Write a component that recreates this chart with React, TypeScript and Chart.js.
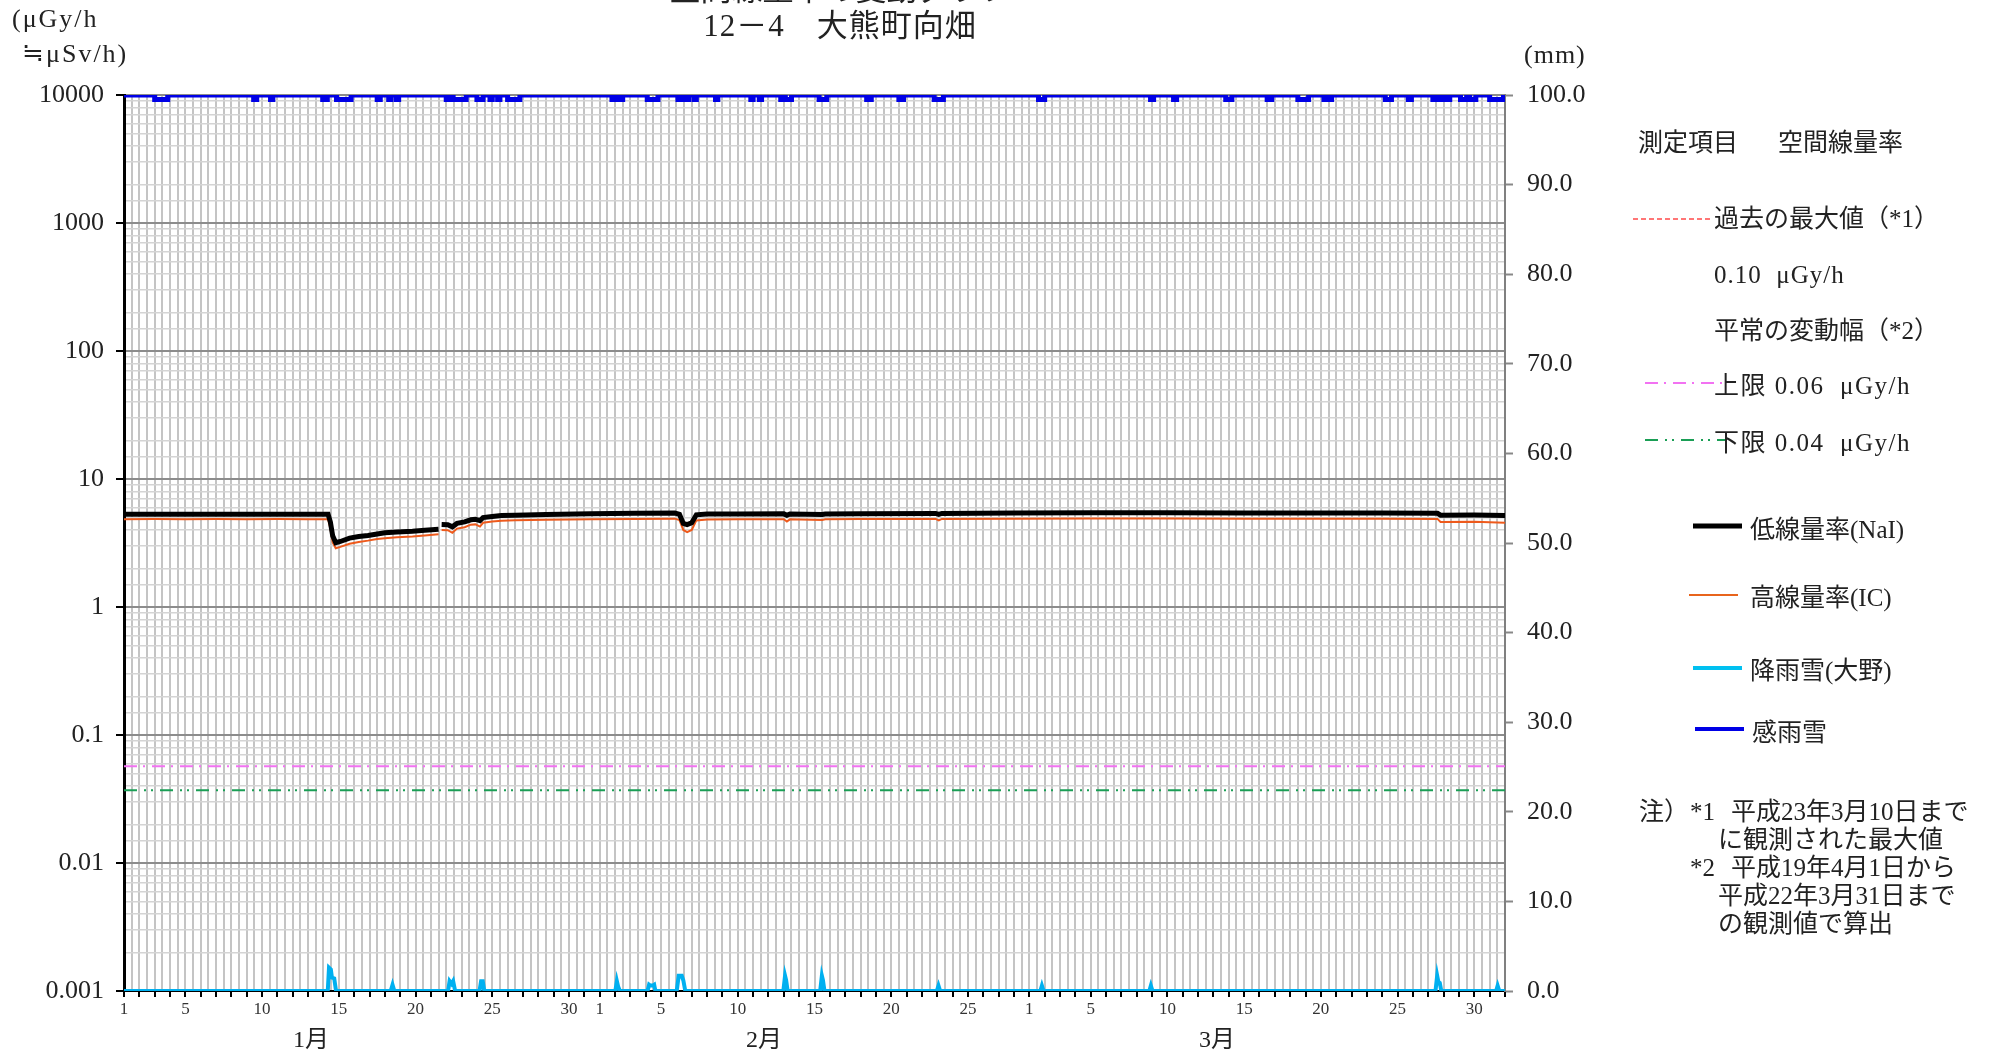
import React, { useEffect, useRef } from "react";
import { Chart, registerables } from "chart.js";

Chart.register(...registerables);

// ---------- data ----------
// x = days elapsed since 1 Jan 00:00 (0..90 covers Jan, Feb, Mar)
const monthNames = ["1月", "2月", "3月"];
const monthLengths = [31, 28, 31];
const dayLabelNumbers = [1, 5, 10, 15, 20, 25, 30];

// 低線量率(NaI)  μGy/h
const naiPoints: Array<[number, number | null]> = [
  [0, 5.3], [2, 5.31], [4, 5.3], [6, 5.31], [8, 5.3], [10, 5.31], [12, 5.3], [13.3, 5.3],
  [13.45, 4.6], [13.6, 3.6], [13.8, 3.18], [14.1, 3.25], [14.7, 3.45], [15.3, 3.55], [15.9, 3.62],
  [16.5, 3.72], [17.0, 3.8], [17.8, 3.85], [18.8, 3.9], [19.6, 3.97], [20.5, 4.05], [20.6, null],
  [20.7, 4.42], [21.1, 4.4], [21.4, 4.23], [21.7, 4.5], [22.2, 4.62], [22.6, 4.8], [22.9, 4.85],
  [23.2, 4.72], [23.4, 5.0], [24.0, 5.1], [24.6, 5.18], [25.5, 5.22], [27.5, 5.28], [30.4, 5.34],
  [33.3, 5.4], [35.9, 5.42], [36.2, 5.3], [36.45, 4.5], [36.7, 4.4], [37.0, 4.55], [37.3, 5.25],
  [38.0, 5.32], [40, 5.33], [43.0, 5.34], [43.2, 5.2], [43.4, 5.33], [45.5, 5.28], [45.7, 5.33],
  [48, 5.36], [52.9, 5.38], [53.1, 5.3], [53.3, 5.38], [58, 5.42], [63, 5.45], [68, 5.45],
  [73, 5.43], [78, 5.43], [82, 5.42], [85.6, 5.4], [85.8, 5.22], [88, 5.23], [90, 5.18],
];

// 高線量率(IC)  μGy/h
const icPoints: Array<[number, number | null]> = [
  [0, 4.85], [2, 4.86], [4, 4.85], [6, 4.86], [8, 4.85], [10, 4.86], [12, 4.85], [13.3, 4.85],
  [13.45, 4.1], [13.6, 3.2], [13.8, 2.88], [14.1, 2.95], [14.7, 3.12], [15.3, 3.22], [15.9, 3.3],
  [16.5, 3.4], [17.0, 3.45], [17.8, 3.5], [18.8, 3.55], [19.6, 3.62], [20.5, 3.7], [20.6, null],
  [20.7, 4.0], [21.1, 3.98], [21.4, 3.8], [21.7, 4.1], [22.2, 4.2], [22.6, 4.4], [22.9, 4.42],
  [23.2, 4.25], [23.4, 4.55], [24.0, 4.65], [24.6, 4.72], [25.5, 4.76], [27.5, 4.8], [30.4, 4.84],
  [33.3, 4.88], [35.9, 4.9], [36.2, 4.78], [36.45, 4.0], [36.7, 3.85], [37.0, 4.0], [37.3, 4.75],
  [38.0, 4.82], [40, 4.84], [43.0, 4.85], [43.2, 4.65], [43.4, 4.84], [45.5, 4.78], [45.7, 4.84],
  [48, 4.86], [52.9, 4.88], [53.1, 4.75], [53.3, 4.88], [58, 4.9], [63, 4.92], [68, 4.92],
  [73, 4.9], [78, 4.9], [82, 4.9], [85.6, 4.88], [85.8, 4.62], [88, 4.64], [90, 4.55],
];

// 降雨雪(大野)  mm
const rainPoints: Array<[number, number]> = [
  [0, 0], [13.28, 0], [13.36, 2.6], [13.48, 2.4], [13.55, 1.5], [13.7, 1.4], [13.82, 0],
  [17.38, 0], [17.5, 0.7], [17.62, 0],
  [21.12, 0], [21.22, 1.1], [21.35, 0.8], [21.45, 1.1], [21.58, 0],
  [23.17, 0], [23.27, 1.1], [23.38, 1.1], [23.48, 0],
  [32.02, 0], [32.12, 1.1], [32.2, 0.5], [32.32, 0],
  [34.12, 0], [34.22, 0.7], [34.3, 0.6], [34.45, 0.6], [34.55, 0.7], [34.63, 0],
  [36.02, 0], [36.15, 1.7], [36.35, 1.7], [36.45, 1.2], [36.58, 0],
  [42.97, 0], [43.08, 1.7], [43.15, 1.2], [43.25, 0],
  [45.37, 0], [45.48, 1.7], [45.55, 1.2], [45.65, 0],
  [52.97, 0], [53.08, 0.6], [53.19, 0],
  [59.72, 0], [59.82, 0.6], [59.93, 0],
  [66.82, 0], [66.92, 0.6], [67.03, 0],
  [85.47, 0], [85.58, 1.7], [85.66, 1.0], [85.75, 0.9], [85.85, 0],
  [89.42, 0], [89.52, 0.6], [89.63, 0], [90, 0],
];

// 感雨雪: intervals (start day, end day) during which the sensor detected precipitation
const sensorIntervals: Array<[number, number]> = [
  [2.0, 2.85], [8.45, 8.65], [9.55, 9.7], [12.95, 13.25], [13.85, 14.8], [16.5, 16.7],
  [17.25, 17.4], [17.75, 17.9], [21.0, 21.2], [21.45, 22.3], [23.0, 23.4], [23.85, 24.0],
  [24.35, 24.5], [25.0, 25.8], [31.8, 32.0], [32.2, 32.5], [34.1, 34.8], [36.1, 36.3],
  [36.5, 36.8], [37.15, 37.3], [38.55, 38.7], [40.85, 41.0], [41.4, 41.55], [42.8, 42.95],
  [43.1, 43.5], [45.3, 45.8], [48.4, 48.7], [50.5, 50.8], [52.8, 53.4], [59.6, 60.0],
  [66.9, 67.1], [68.4, 68.6], [71.8, 72.2], [74.5, 74.8], [76.5, 77.2], [78.2, 78.35],
  [78.55, 78.7], [82.2, 82.6], [83.7, 83.9], [85.3, 85.5], [85.65, 85.9], [86.2, 86.4],
  [87.1, 87.5], [87.7, 88.1], [89.0, 89.9],
];
const sensorIdleLevel = 100;
const sensorActiveLevel = 99.5;

const upperLimit = 0.057; // 平常の変動幅 上限 (plotted level)
const lowerLimit = 0.037; // 平常の変動幅 下限 (plotted level)
const xMin = 0;
const xMax = 90;

// ---------- helpers ----------
const toXY = (pts: Array<[number, number | null]>) => pts.map(([x, y]) => ({ x, y }));

function sensorSeries() {
  const out: Array<{ x: number; y: number }> = [{ x: xMin, y: sensorIdleLevel }];
  for (const [s, e] of sensorIntervals) {
    out.push({ x: s, y: sensorActiveLevel });
    out.push({ x: e, y: sensorIdleLevel });
  }
  out.push({ x: xMax, y: sensorIdleLevel });
  return out;
}

function dayLabel(v: number): string {
  if (!Number.isInteger(v)) return "";
  let d = v;
  for (const len of monthLengths) {
    if (d < len) {
      const dom = d + 1;
      return dayLabelNumbers.includes(dom) ? String(dom) : "";
    }
    d -= len;
  }
  return "";
}

function isDecade(v: number): boolean {
  const e = Math.log10(v);
  return Math.abs(e - Math.round(e)) < 1e-6;
}

function logLabel(v: number): string {
  if (!isDecade(v)) return "";
  const e = Math.round(Math.log10(v));
  return e >= 0 ? String(Math.round(Math.pow(10, e))) : Math.pow(10, e).toFixed(-e);
}

const SERIF = "'Liberation Serif', 'Noto Sans CJK JP', serif";
const JP = "'Liberation Serif', 'Noto Sans CJK JP', sans-serif";
const TXT = "#222";

const CANVAS_W = 1600;
const CANVAS_H = 1054;

function Label(props: {
  x: number;
  y: number;
  size: number;
  center?: boolean;
  spacing?: number;
  children: React.ReactNode;
}) {
  const { x, y, size, center, spacing, children } = props;
  return (
    <div
      style={{
        position: "absolute",
        left: x,
        top: y - size * 0.6,
        fontSize: size,
        lineHeight: `${size * 1.2}px`,
        whiteSpace: "pre",
        color: TXT,
        fontFamily: JP,
        letterSpacing: spacing ? `${spacing}px` : undefined,
        transform: center ? "translateX(-50%)" : undefined,
      }}
    >
      {children}
    </div>
  );
}

export default function App() {
  const ref = useRef<HTMLCanvasElement>(null);

  useEffect(() => {
    const canvas = ref.current;
    if (!canvas) return;
    const chart = new Chart(canvas, {
      type: "line",
      data: {
        datasets: [
          {
            label: "低線量率(NaI)",
            data: toXY(naiPoints) as any,
            borderColor: "#000000",
            borderWidth: 5,
            yAxisID: "y",
            spanGaps: false,
          },
          {
            label: "高線量率(IC)",
            data: toXY(icPoints) as any,
            borderColor: "#ee5a1c",
            borderWidth: 2,
            yAxisID: "y",
            spanGaps: false,
          },
          {
            label: "降雨雪(大野)",
            data: toXY(rainPoints) as any,
            borderColor: "#00b0f0",
            borderWidth: 4,
            yAxisID: "y2",
          },
          {
            label: "感雨雪",
            data: sensorSeries() as any,
            borderColor: "#0000e6",
            borderWidth: 5,
            yAxisID: "y2",
            stepped: true,
          },
          {
            label: "上限",
            data: [
              { x: xMin, y: upperLimit },
              { x: xMax, y: upperLimit },
            ] as any,
            borderColor: "#f272f2",
            borderWidth: 2,
            borderDash: [13, 6, 2, 7],
            yAxisID: "y",
          },
          {
            label: "下限",
            data: [
              { x: xMin, y: lowerLimit },
              { x: xMax, y: lowerLimit },
            ] as any,
            borderColor: "#1a9e55",
            borderWidth: 2,
            borderDash: [13, 7, 2, 5, 2, 7],
            yAxisID: "y",
          },
        ],
      },
      options: {
        responsive: false,
        animation: false,
        devicePixelRatio: 1,
        layout: { padding: { top: 95, left: 0, right: 0, bottom: 0 } },
        elements: { point: { radius: 0 }, line: { tension: 0 } },
        plugins: { legend: { display: false }, tooltip: { enabled: false } },
        scales: {
          x: {
            type: "linear",
            min: xMin,
            max: xMax,
            ticks: {
              stepSize: 0.5,
              autoSkip: false,
              maxRotation: 0,
              minRotation: 0,
              callback: (v: any) => dayLabel(Number(v)),
              font: { family: SERIF, size: 17 },
              color: "#333",
              padding: 2,
            },
            grid: {
              color: "#c4c4c4",
              lineWidth: 2,
              tickColor: (c: any) => (Number.isInteger(c.tick?.value) ? "#000" : "rgba(0,0,0,0)"),
              tickLength: 6,
              tickWidth: 2,
            },
            border: { color: "#000", width: 2 },
            afterFit: (s: any) => {
              s.height = 63;
            },
          },
          y: {
            type: "logarithmic",
            position: "left",
            min: 0.001,
            max: 10000,
            ticks: {
              autoSkip: false,
              callback: (v: any) => logLabel(Number(v)),
              font: { family: SERIF, size: 26 },
              color: TXT,
              padding: 12,
            },
            grid: {
              color: (c: any) => (isDecade(c.tick?.value) ? "#8c8c8c" : "#d4d4d4"),
              lineWidth: (c: any) => (isDecade(c.tick?.value) ? 2 : 1.5),
              tickColor: (c: any) => (isDecade(c.tick?.value) ? "#000" : "rgba(0,0,0,0)"),
              tickLength: 8,
              tickWidth: 2,
            },
            border: { color: "#000", width: 3 },
            afterFit: (s: any) => {
              s.width = 124;
            },
          },
          y2: {
            type: "linear",
            position: "right",
            min: 0,
            max: 100,
            ticks: {
              stepSize: 10,
              callback: (v: any) => Number(v).toFixed(1),
              font: { family: SERIF, size: 26 },
              color: TXT,
              padding: 14,
            },
            grid: { drawOnChartArea: false, tickColor: "#888", tickLength: 8, tickWidth: 2 },
            border: { color: "#808080", width: 2 },
            afterFit: (s: any) => {
              s.width = CANVAS_W - 1505;
            },
          },
        },
      },
    });
    return () => chart.destroy();
  }, []);

  return (
    <div
      style={{
        position: "absolute",
        left: 0,
        top: 0,
        width: 2006,
        height: 1054,
        overflow: "hidden",
        background: "#fff",
      }}
    >
      <canvas
        ref={ref}
        width={CANVAS_W}
        height={CANVAS_H}
        style={{ position: "absolute", left: 0, top: 0, width: CANVAS_W, height: CANVAS_H }}
      />

      {/* titles */}
      <Label x={840} y={-10} size={31} center>空間線量率の変動グラフ</Label>
      <Label x={840} y={26} size={31} center spacing={1}>12－4　大熊町向畑</Label>

      {/* axis units */}
      <Label x={12} y={19} size={26} spacing={2}>(μGy/h</Label>
      <Label x={22} y={54} size={26} spacing={2}>≒μSv/h)</Label>
      <Label x={1524} y={55} size={26} spacing={1}>(mm)</Label>

      {/* month labels */}
      <Label x={311} y={1039} size={24} center>{monthNames[0]}</Label>
      <Label x={764} y={1039} size={24} center>{monthNames[1]}</Label>
      <Label x={1217} y={1039} size={24} center>{monthNames[2]}</Label>

      {/* legend line samples */}
      <svg
        width={2006}
        height={1054}
        style={{ position: "absolute", left: 0, top: 0, pointerEvents: "none" }}
      >
        <line x1={1633} y1={219} x2={1713} y2={219} stroke="#ff4a4a" strokeWidth={1.5} strokeDasharray="5 3" />
        <line x1={1645} y1={383} x2={1727} y2={383} stroke="#f272f2" strokeWidth={2} strokeDasharray="13 6 2 7" />
        <line x1={1645} y1={440} x2={1727} y2={440} stroke="#1a9e55" strokeWidth={2} strokeDasharray="13 7 2 5 2 7" />
        <line x1={1693} y1={526} x2={1742} y2={526} stroke="#000" strokeWidth={5} />
        <line x1={1689} y1={595} x2={1738} y2={595} stroke="#e8641c" strokeWidth={2} />
        <line x1={1693} y1={668} x2={1742} y2={668} stroke="#00c0f0" strokeWidth={4} />
        <line x1={1695} y1={729} x2={1744} y2={729} stroke="#0000e6" strokeWidth={4} />
      </svg>

      {/* legend texts */}
      <Label x={1638} y={143} size={25}>測定項目</Label>
      <Label x={1778} y={143} size={25}>空間線量率</Label>
      <Label x={1714} y={219} size={25}>過去の最大値（*1）</Label>
      <Label x={1714} y={275} size={25} spacing={1}>{"0.10  μGy/h"}</Label>
      <Label x={1714} y={331} size={25}>平常の変動幅（*2）</Label>
      <Label x={1714} y={386} size={25} spacing={1.5}>{"上限 0.06  μGy/h"}</Label>
      <Label x={1714} y={443} size={25} spacing={1.5}>{"下限 0.04  μGy/h"}</Label>
      <Label x={1750} y={530} size={25}>低線量率(NaI)</Label>
      <Label x={1750} y={598} size={25}>高線量率(IC)</Label>
      <Label x={1750} y={671} size={25}>降雨雪(大野)</Label>
      <Label x={1752} y={733} size={25}>感雨雪</Label>

      {/* notes */}
      <Label x={1639} y={812} size={25}>注）</Label>
      <Label x={1690} y={812} size={25}>*1</Label>
      <Label x={1731} y={812} size={25}>平成23年3月10日まで</Label>
      <Label x={1718} y={840} size={25}>に観測された最大値</Label>
      <Label x={1690} y={868} size={25}>*2</Label>
      <Label x={1731} y={868} size={25}>平成19年4月1日から</Label>
      <Label x={1718} y={896} size={25}>平成22年3月31日まで</Label>
      <Label x={1718} y={924} size={25}>の観測値で算出</Label>
    </div>
  );
}
